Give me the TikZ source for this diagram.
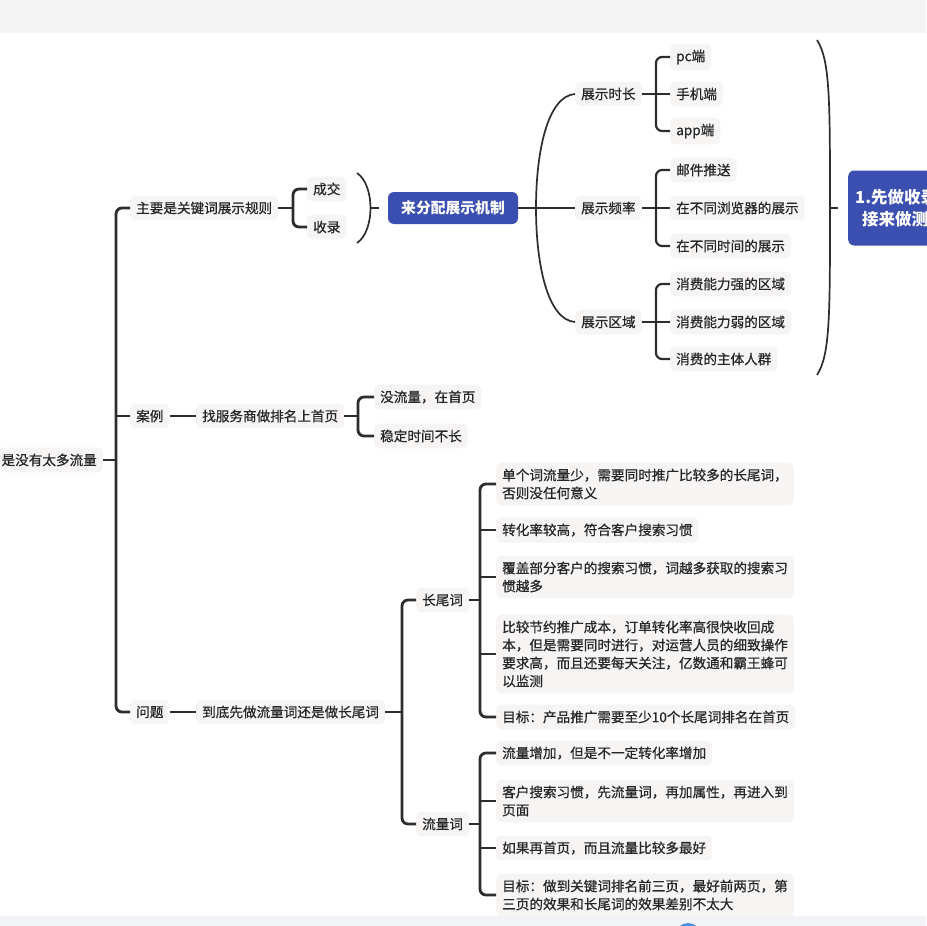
\documentclass[tikz,border=0pt]{standalone}
\usepackage{fontspec}
\setmainfont{Noto Sans CJK SC}
\newfontfamily\medfont{Noto Sans CJK SC}[FakeBold=0.6]
\definecolor{nodebg}{RGB}{247,244,244}
\definecolor{txt}{RGB}{38,38,38}
\definecolor{lc}{RGB}{45,45,45}
\definecolor{blueA}{RGB}{58,79,176}
\definecolor{topband}{RGB}{245,244,244}
\definecolor{botband}{RGB}{242,243,247}
\definecolor{blob}{RGB}{74,144,226}
\tikzset{
  tnode/.style={fill=nodebg, rounded corners=5pt, inner xsep=6pt, inner ysep=6pt, text=txt,
    font=\medfont\fontsize{13.6}{18}\selectfont, anchor=west, align=left},
  bluebox/.style={fill=blueA, rounded corners=6pt, text=white,
    font=\bfseries\fontsize{14.8}{18}\selectfont, inner xsep=11pt},
  link/.style={draw=lc, line width=2.8pt, rounded corners=6pt},
  midlink/.style={draw=lc, line width=2.2pt, rounded corners=6pt},
  thinlink/.style={draw=lc, line width=1.7pt}
}
\begin{document}
\begin{tikzpicture}[x=1pt,y=-1pt]
\useasboundingbox (0,0) rectangle (926,926);
\fill[white] (0,0) rectangle (926,926);
\fill[topband] (0,0) rectangle (926,33);
\fill[botband] (0,916) rectangle (926,926);
\fill[blob] (688,936) circle (13);

% root and level 1
\node[tnode, anchor=east] (root) at (103,460) {是没有太多流量};
\node[tnode] (n1) at (130,208) {主要是关键词展示规则};
\node[tnode] (n2) at (130,416) {案例};
\node[tnode] (n3) at (130,712) {问题};
\coordinate (tr) at (116,460);
\draw[link] (root.east) -- (tr);
\draw[link] (n1.west) -| (tr) |- (n3.west);
\draw[link] (n2.west -| tr) -- (n2.west);

% branch 1
\node[tnode] (cj) at (307,189) {成交};
\node[tnode] (sl) at (307,227) {收录};
\coordinate (b1) at (293,208);
\draw[link] (n1.east) -- (b1);
\draw[link] (cj.west) -| (b1) |- (sl.west);

\node[bluebox, minimum width=130pt, minimum height=32pt] (blue1) at (453,208) {来分配展示机制};
\coordinate (pm1) at (370.5,208);
\draw[thinlink] (357,173) .. controls (375,185) and (375,231) .. (357,243);
\draw[thinlink] (pm1) -- ([xshift=-9pt]blue1.west);

\node[tnode] (s1) at (575,94) {展示时长};
\node[tnode] (s2) at (575,208) {展示频率};
\node[tnode] (s3) at (575,322) {展示区域};
\draw[thinlink] (blue1.east) -- (s2.west);
\draw[thinlink] (s1.west) .. controls (548,96) and (536,150) .. (536,208)
  .. controls (536,266) and (548,320) .. (s3.west);

\node[tnode] (g1) at (670,57) {pc端};
\node[tnode] (g2) at (670,94) {手机端};
\node[tnode] (g3) at (670,131) {app端};
\node[tnode] (h1) at (670,170) {邮件推送};
\node[tnode] (h2) at (670,208) {在不同浏览器的展示};
\node[tnode] (h3) at (670,246) {在不同时间的展示};
\node[tnode] (k1) at (670,284) {消费能力强的区域};
\node[tnode] (k2) at (670,322) {消费能力弱的区域};
\node[tnode] (k3) at (670,359) {消费的主体人群};

\coordinate (bg) at (656,94);
\coordinate (bh) at (656,208);
\coordinate (bk) at (656,322);
\draw[midlink] (s1.east) -- (g2.west);
\draw[midlink] (g1.west) -| (bg) |- (g3.west);
\draw[midlink] (s2.east) -- (h2.west);
\draw[midlink] (h1.west) -| (bh) |- (h3.west);
\draw[midlink] (s3.east) -- (k2.west);
\draw[midlink] (k1.west) -| (bk) |- (k3.west);

\node[bluebox, anchor=west, minimum height=75pt, text width=140pt, align=left,
  font=\bfseries\fontsize{16.5}{22}\selectfont, inner xsep=7pt] (blue2) at (848,208)
  {1.先做收录\\\hspace*{7pt}接来做测};
\coordinate (pm2) at (830,208);
\draw[thinlink] (817,40) .. controls (830,60) and (830,100) .. (pm2)
  .. controls (830,316) and (830,355) .. (817,375);
\draw[thinlink] (pm2) -- ([xshift=-10pt]blue2.west);

% branch 2
\node[tnode] (f1) at (196,416) {找服务商做排名上首页};
\node[tnode] (c1) at (374,397) {没流量，在首页};
\node[tnode] (c2) at (374,436) {稳定时间不长};
\coordinate (b2) at (358,416);
\draw[link] (n2.east) -- (f1.west);
\draw[link] (f1.east) -- (b2);
\draw[link] (c1.west) -| (b2) |- (c2.west);

% branch 3
\node[tnode] (f2) at (196,712) {到底先做流量词还是做长尾词};
\node[tnode] (cw) at (416,600) {长尾词};
\node[tnode] (lw) at (416,824) {流量词};
\coordinate (b3) at (402,712);
\draw[link] (n3.east) -- (f2.west);
\draw[link] (f2.east) -- (b3);
\draw[link] (cw.west) -| (b3) |- (lw.west);

\node[tnode] (l1) at (496,484) {单个词流量少，需要同时推广比较多的长尾词，\\否则没任何意义};
\node[tnode] (l2) at (496,530) {转化率较高，符合客户搜索习惯};
\node[tnode] (l3) at (496,577) {覆盖部分客户的搜索习惯，词越多获取的搜索习\\惯越多};
\node[tnode] (l4) at (496,654) {比较节约推广成本，订单转化率高很快收回成\\本，但是需要同时进行，对运营人员的细致操作\\要求高，而且还要每天关注，亿数通和霸王蜂可\\以监测};
\node[tnode] (l5) at (496,717) {目标：产品推广需要至少10个长尾词排名在首页};
\coordinate (b4) at (480,600);
\draw[link] (cw.east) -- (b4);
\draw[link] (l1.west) -| (b4) |- (l5.west);
\draw[link] (l2.west -| b4) -- (l2.west);
\draw[link] (l3.west -| b4) -- (l3.west);
\draw[link] (l4.west -| b4) -- (l4.west);

\node[tnode] (m1) at (496,753) {流量增加，但是不一定转化率增加};
\node[tnode] (m2) at (496,801) {客户搜索习惯，先流量词，再加属性，再进入到\\页面};
\node[tnode] (m3) at (496,848) {如果再首页，而且流量比较多最好};
\node[tnode] (m4) at (496,895) {目标：做到关键词排名前三页，最好前两页，第\\三页的效果和长尾词的效果差别不太大};
\coordinate (b5) at (480,824);
\draw[link] (lw.east) -- (b5);
\draw[link] (m1.west) -| (b5) |- (m4.west);
\draw[link] (m2.west -| b5) -- (m2.west);
\draw[link] (m3.west -| b5) -- (m3.west);
\end{tikzpicture}
\end{document}
